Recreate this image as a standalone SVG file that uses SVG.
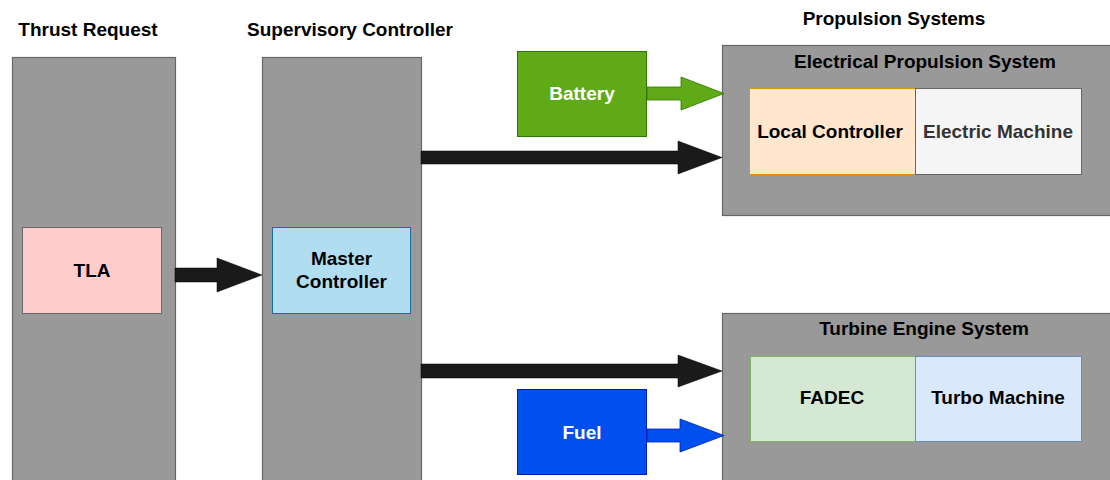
<svg xmlns="http://www.w3.org/2000/svg" width="1110" height="480" viewBox="0 0 1110 480">
<style>
text{font-family:"Liberation Sans",Arial,sans-serif;font-weight:bold;font-size:19px;text-anchor:middle;fill:#000}
.col{fill:#999999;stroke:#666666;stroke-width:1.2}
.w{fill:#ffffff}
.g{fill:#333333}
</style>
<rect width="1110" height="480" fill="#ffffff"/>
<g id="labels">
<text x="88" y="36">Thrust Request</text>
<text x="350" y="36">Supervisory Controller</text>
<text x="894" y="25">Propulsion Systems</text>
</g>
<g id="thrust-request">
<rect class="col" x="12.5" y="57.5" width="163" height="430"/>
</g>
<g id="supervisory-controller">
<rect class="col" x="262.5" y="57.5" width="159" height="430"/>
</g>
<g id="tla">
<rect x="22.5" y="227.5" width="139" height="86" fill="#ffcccc" stroke="#666666"/>
<text x="92" y="277">TLA</text>
</g>
<g id="master-controller">
<rect x="272.5" y="227.5" width="138" height="86" fill="#b1ddf0" stroke="#10739e"/>
<text x="341.5" y="265">Master</text>
<text x="341.5" y="288">Controller</text>
</g>
<g id="electrical-propulsion-system">
<rect class="col" x="722.5" y="45.5" width="400" height="170"/>
<text x="925" y="68">Electrical Propulsion System</text>
</g>
<g id="local-controller">
<rect x="749.5" y="88.5" width="166" height="86" fill="#ffe6cc" stroke="#d79b00"/>
<text x="830" y="138">Local Controller</text>
</g>
<g id="electric-machine">
<rect x="915.5" y="88.5" width="166" height="86" fill="#f5f5f5" stroke="#666666"/>
<text class="g" x="998" y="138">Electric Machine</text>
</g>
<g id="turbine-engine-system">
<rect class="col" x="722.5" y="313.5" width="400" height="180"/>
<text x="924" y="335">Turbine Engine System</text>
</g>
<g id="fadec">
<rect x="750.5" y="356.5" width="165" height="85" fill="#d5e8d4" stroke="#82b366"/>
<text x="832" y="404">FADEC</text>
</g>
<g id="turbo-machine">
<rect x="915.5" y="356.5" width="166" height="85" fill="#dae8fc" stroke="#6c8ebf"/>
<text x="998" y="404">Turbo Machine</text>
</g>
<g id="battery">
<rect x="517.5" y="51.5" width="129" height="85" fill="#60a917" stroke="#2d7600"/>
<text class="w" x="582" y="100">Battery</text>
</g>
<g id="fuel">
<rect x="517.5" y="389.5" width="129" height="85" fill="#0050ef" stroke="#001dbc"/>
<text class="w" x="582" y="439">Fuel</text>
</g>
<g id="connectors">
<polygon points="175,268 217,268 217,258 262,275 217,292 217,282 175,282" fill="#1a1a1a" stroke="#000000" stroke-width="0.5"/>
<polygon points="421,151 678,151 678,141 722,157.5 678,174 678,164 421,164" fill="#1a1a1a" stroke="#000000" stroke-width="0.5"/>
<polygon points="421,364 678,364 678,355 722,371 678,387 678,378 421,378" fill="#1a1a1a" stroke="#000000" stroke-width="0.5"/>
<polygon points="647,87 681,87 681,77 724,93.5 681,110 681,100 647,100" fill="#60a917" stroke="#2d7600" stroke-width="0.8"/>
<polygon points="647,429 680,429 680,419 724,435.5 680,452 680,442 647,442" fill="#0050ef" stroke="#001dbc" stroke-width="0.8"/>
</g>
</svg>
